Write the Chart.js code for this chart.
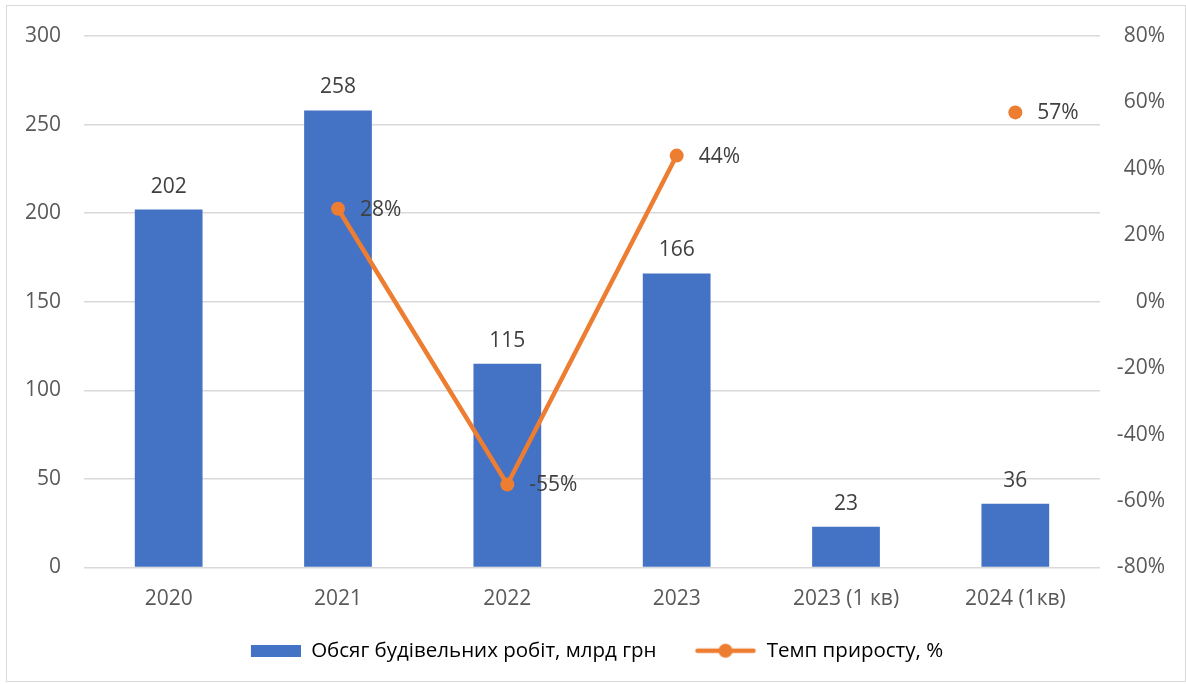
<!DOCTYPE html>
<html lang="uk">
<head>
<meta charset="utf-8">
<title>Обсяг будівельних робіт</title>
<script src="https://cdn.jsdelivr.net/npm/chart.js@4.4.1/dist/chart.umd.min.js"></script>
<style>
  html, body { margin: 0; padding: 0; background: #fff; }
  #frame {
    position: absolute; left: 6px; top: 5px;
    width: 1178px; height: 675px;
    border: 1px solid #d9d9d9;
  }
</style>
</head>
<body>
<div id="frame"><canvas id="buildChart"></canvas></div>
<script>
// дані
const periods = ['2020', '2021', '2022', '2023', '2023 (1 кв)', '2024 (1кв)'];
const volume = [202, 258, 115, 166, 23, 36];          // млрд грн
const growth = [null, 28, -55, 44, null, 57];         // %
const volumeTicks = { min: 0, max: 300, step: 50 };
const growthTicks = { min: -80, max: 80, step: 20 };

const BLUE = '#4472C4';
const ORANGE = '#ED7D31';
const MARK_W = 72;   // ширина місця під маркер легенди

Chart.defaults.font.family = '"Open Sans", sans-serif';
Chart.defaults.font.size = 21;
Chart.defaults.color = '#595959';

// маркери легенди (притиснуті до правого краю, ближче до тексту)
function legendBox() {
  const c = document.createElement('canvas');
  c.width = MARK_W; c.height = 12;
  const g = c.getContext('2d');
  g.fillStyle = BLUE;
  g.fillRect(MARK_W - 50, 0, 50, 12);
  return c;
}
function legendLine() {
  const c = document.createElement('canvas');
  c.width = MARK_W; c.height = 16;
  const g = c.getContext('2d');
  const x0 = MARK_W - 62;
  g.strokeStyle = ORANGE;
  g.lineWidth = 4.5;
  g.lineCap = 'round';
  g.beginPath(); g.moveTo(x0 + 3, 8); g.lineTo(x0 + 59, 8); g.stroke();
  g.fillStyle = ORANGE;
  g.beginPath(); g.arc(x0 + 31, 8, 7, 0, Math.PI * 2); g.fill();
  return c;
}

// підписи значень
const valueLabels = {
  id: 'valueLabels',
  afterDatasetsDraw(chart) {
    const ctx = chart.ctx;
    ctx.save();
    ctx.font = '21px "Open Sans", sans-serif';
    ctx.fillStyle = '#404040';

    const bars = chart.getDatasetMeta(0);
    ctx.textAlign = 'center';
    ctx.textBaseline = 'alphabetic';
    bars.data.forEach((bar, i) => {
      ctx.fillText(String(volume[i]), bar.x, bar.y - 17);
    });

    const pts = chart.getDatasetMeta(1);
    ctx.textAlign = 'left';
    ctx.textBaseline = 'middle';
    pts.data.forEach((pt, i) => {
      if (growth[i] === null) return;
      ctx.fillText(growth[i] + '%', pt.x + 22, pt.y + 1);
    });
    ctx.restore();
  }
};

// осі без додаткових відступів зверху/знизу
function fixAxis(width) {
  return s => {
    s.width = width;
    s.paddingTop = 0;
    s.paddingBottom = 0;
  };
}

const ctx = document.getElementById('buildChart').getContext('2d');
new Chart(ctx, {
  data: {
    labels: periods,
    datasets: [{
      type: 'bar',
      label: 'Обсяг будівельних робіт, млрд грн',
      data: volume,
      backgroundColor: BLUE,
      barPercentage: 0.4,
      categoryPercentage: 1,
      yAxisID: 'y',
      order: 1
    }, {
      type: 'line',
      label: 'Темп приросту, %',
      data: growth,
      borderColor: ORANGE,
      backgroundColor: ORANGE,
      borderWidth: 4.5,
      pointRadius: 7,
      pointHoverRadius: 7,
      pointBorderWidth: 0,
      spanGaps: false,
      tension: 0,
      yAxisID: 'y1',
      order: 0
    }]
  },
  options: {
    responsive: true,
    maintainAspectRatio: false,
    animation: false,
    layout: { padding: { top: 30, right: 20, bottom: 10, left: 0 } },
    scales: {
      x: {
        grid: { display: false },
        border: { display: false },
        ticks: { padding: 11, maxRotation: 0 },
        afterFit: s => { s.height = 45; }
      },
      y: {
        position: 'left',
        min: volumeTicks.min,
        max: volumeTicks.max,
        ticks: { stepSize: volumeTicks.step, padding: 23 },
        grid: { color: '#d9d9d9', lineWidth: 1.5, drawTicks: false },
        border: { display: false },
        afterFit: fixAxis(77)
      },
      y1: {
        position: 'right',
        min: growthTicks.min,
        max: growthTicks.max,
        ticks: {
          stepSize: growthTicks.step,
          padding: 10,
          crossAlign: 'far',
          callback: v => v + '%'
        },
        grid: { display: false, drawTicks: false },
        border: { display: false },
        afterFit: fixAxis(65)
      }
    },
    plugins: {
      tooltip: { enabled: false },
      legend: {
        position: 'bottom',
        labels: {
          usePointStyle: true,
          pointStyleWidth: MARK_W,
          padding: 28,
          color: '#595959',
          font: { size: 20.5 },
          generateLabels: chart => chart.data.datasets.map((ds, i) => ({
            text: ds.label,
            pointStyle: i === 0 ? legendBox() : legendLine(),
            fillStyle: ds.backgroundColor,
            strokeStyle: ds.backgroundColor,
            lineWidth: 0,
            hidden: false,
            datasetIndex: i
          }))
        }
      }
    }
  },
  plugins: [valueLabels]
});
</script>
</body>
</html>
